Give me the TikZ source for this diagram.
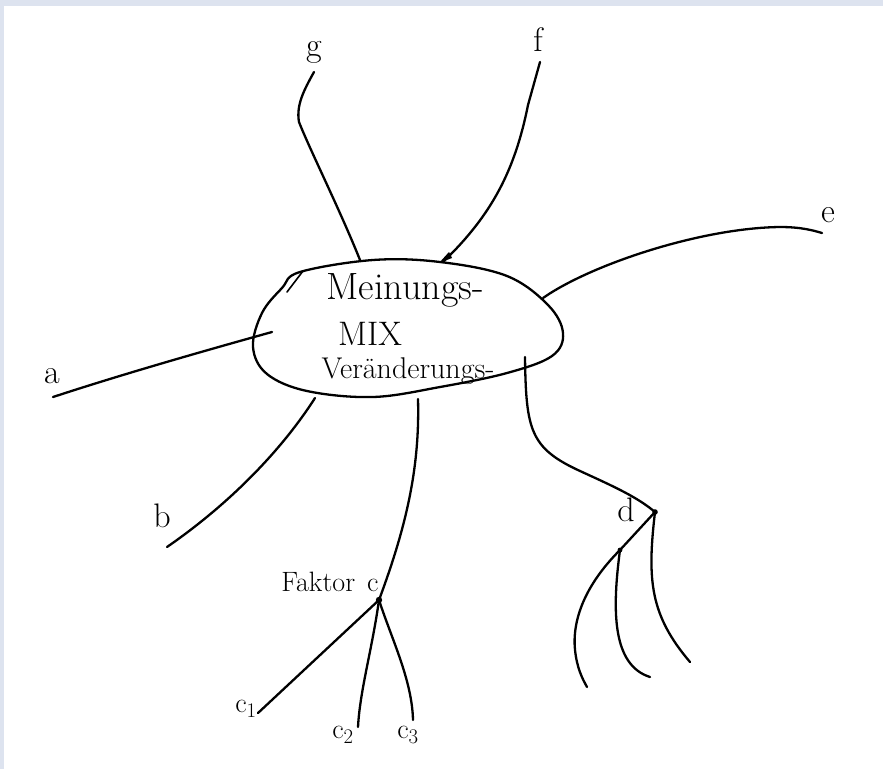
\documentclass[tikz,border=0pt]{standalone}
\usepackage{tikz}
\definecolor{frame}{HTML}{DDE3EF}
\begin{document}
\begin{tikzpicture}[x=1pt,y=-1pt,
  pen/.style={line width=2.3pt,line cap=round,line join=round,black},
  lbl/.style={inner sep=0pt,font=\fontsize{34}{38}\selectfont},
  sublbl/.style={inner sep=0pt,font=\fontsize{28}{32}\selectfont}]
\useasboundingbox (0,0) rectangle (883,769);
\fill[frame] (0,0) rectangle (883,769);
\fill[white] (4,6) rectangle (883,769);

% central blob
\draw[pen] plot[smooth cycle,tension=0.6] coordinates {
  (300,272) (373,260) (440,262) (507,276) (548,305) (563,333) (552,356)
  (507,373) (440,387) (373,397) (307,391) (267,374) (253,347) (262,313) (282,288)};
\coordinate (tickA) at (287,292);
\coordinate (tickB) at (303,271);
\draw[pen,line width=1.6pt] (tickA) -- (tickB);

\node[inner sep=0pt,font=\fontsize{38}{42}\selectfont] (m1) at (405,290) {Meinungs-};
\node[inner sep=0pt,font=\fontsize{34}{38}\selectfont] (m2) at (370,334) {MIX};
\node[inner sep=0pt,font=\fontsize{30}{34}\selectfont] (m3) at (408,371) {Veränderungs-};

% labels
\node[lbl] (lg) at (314,52) {g};
\node[lbl] (lf) at (538,40) {f};
\node[lbl] (le) at (828,215) {e};
\node[lbl] (la) at (52,376) {a};
\node[lbl] (lb) at (162,516) {b};
\node[sublbl] (lc) at (330,582) {Faktor\hspace{12pt}c};
\node[lbl] (ld) at (626,510) {d};
\node[sublbl] (lc1) at (246,709) {c$_1$};
\node[sublbl] (lc2) at (343,735) {c$_2$};
\node[sublbl] (lc3) at (408,735) {c$_3$};

% attach points on the blob and free ends
\coordinate (ga) at (360,260);
\coordinate (gE) at (314,72);
\coordinate (fa) at (443,262);
\coordinate (fE) at (540,62);
\coordinate (ea) at (543,298);
\coordinate (eE) at (822,233);
\coordinate (aa) at (272,332);
\coordinate (aE) at (53,397);
\coordinate (ba) at (315,398);
\coordinate (bE) at (167,547);
\coordinate (ca) at (418,399);
\coordinate (cJ) at (379,600);
\coordinate (c1E) at (258,713);
\coordinate (c2E) at (358,727);
\coordinate (c3E) at (413,720);
\coordinate (da) at (525,357);
\coordinate (dJ) at (655,512);
\coordinate (dK) at (620,550);
\coordinate (d1E) at (587,687);
\coordinate (d2E) at (650,677);
\coordinate (d3E) at (690,662);

% connectors
\draw[pen] (ga) .. controls (340,210) and (310,150) .. (299,122)
  .. controls (296,105) and (304,90) .. (gE);
\draw[pen] (fa) .. controls (492,215) and (515,170) .. (528,105) -- (fE);
\fill (fa) ++(-4,1) -- ++(10,-11) -- ++(3,6) -- cycle;
\draw[pen] (ea) .. controls (590,265) and (700,228) .. (780,227)
  .. controls (800,227) and (812,230) .. (eE);
\draw[pen] (aa) .. controls (200,352) and (120,375) .. (aE);
\draw[pen] (ba) .. controls (285,445) and (235,500) .. (bE);
\draw[pen] (ca) .. controls (420,470) and (405,530) .. (cJ);
\draw[pen] (cJ) -- (c1E);
\draw[pen] (cJ) .. controls (372,650) and (360,690) .. (c2E);
\draw[pen] (cJ) .. controls (392,640) and (412,680) .. (c3E);
\fill (cJ) circle (3.2pt);
\draw[pen] (da) .. controls (526,430) and (530,448) .. (580,471)
  .. controls (615,487) and (637,497) .. (dJ);
\draw[pen] (dJ) -- (dK) .. controls (585,585) and (572,620) .. (575,650)
  .. controls (577,668) and (582,678) .. (d1E);
\draw[pen] (dK) .. controls (612,610) and (612,665) .. (d2E);
\draw[pen] (dJ) .. controls (647,580) and (650,615) .. (d3E);
\fill (dJ) circle (2.8pt);
\fill (dK) circle (2.4pt);
\end{tikzpicture}
\end{document}
